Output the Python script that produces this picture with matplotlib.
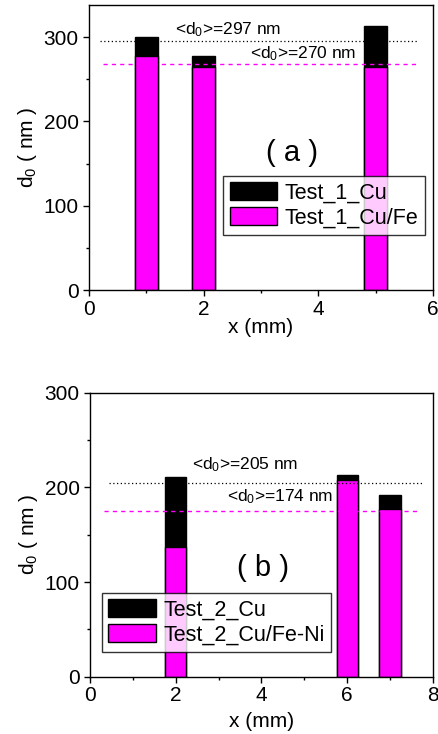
import numpy as np
import matplotlib
matplotlib.use('Agg')
from matplotlib import pyplot as plt
from matplotlib.ticker import MultipleLocator

plt.rcParams['font.family'] = ['Liberation Sans', 'DejaVu Sans']
plt.rcParams['mathtext.fontset'] = 'custom'
plt.rcParams['mathtext.rm'] = 'Liberation Sans'

# panel (a)
x_a = [1, 2, 5]
cu_a = [300, 277, 313]
cufe_a = [278, 265, 264]
mean_cu_a = 295
mean_cufe_a = 268

# panel (b)
x_b = [2, 6, 7]
cu_b = [211, 213, 192]
cufeni_b = [137, 208, 177]
mean_cu_b = 205
mean_cufeni_b = 175

fig = plt.figure(figsize=(4.39, 7.34), dpi=100)
ax1 = fig.add_axes([0.2027, 0.6049, 0.7836, 0.3883])
ax2 = fig.add_axes([0.2050, 0.0781, 0.7813, 0.3869])


def style_axes(ax, xmax, ymax, xpad):
    ax.set_xlim(0, xmax)
    ax.set_ylim(0, ymax)
    ax.xaxis.set_major_locator(MultipleLocator(2))
    ax.xaxis.set_minor_locator(MultipleLocator(1))
    ax.yaxis.set_major_locator(MultipleLocator(100))
    ax.yaxis.set_minor_locator(MultipleLocator(50))
    ax.tick_params(which='major', direction='out', length=4, width=1, labelsize=15,
                   top=False, right=False)
    ax.tick_params(axis='x', which='major', pad=3)
    ax.tick_params(axis='y', which='major', pad=3.5)
    ax.tick_params(which='minor', direction='out', length=2, width=1,
                   top=False, right=False)
    for s in ax.spines.values():
        s.set_linewidth(1)
    ax.set_xlabel('x (mm)', fontsize=15, labelpad=xpad)
    ax.set_ylabel(r'$\mathregular{d_0}$ ( nm )', fontsize=15, labelpad=3)


def make_legend(ax, anchor):
    leg = ax.legend(loc='upper left', bbox_to_anchor=anchor, fontsize=15.5, frameon=True,
                    fancybox=False, handlelength=2.2, handleheight=0.9, handletextpad=0.35,
                    borderpad=0.3, labelspacing=0.15, borderaxespad=0)
    leg.get_frame().set_edgecolor('black')
    leg.get_frame().set_linewidth(1)
    return leg


# top plot
ax1.bar(x_a, cu_a, width=0.4, color='black', edgecolor='black', linewidth=1, label='Test_1_Cu')
ax1.bar(x_a, cufe_a, width=0.4, color='#ff00ff', edgecolor='black', linewidth=1, label='Test_1_Cu/Fe')
ax1.plot([0.2, 5.72], [mean_cu_a, mean_cu_a], color='black', linestyle=(0, (1, 2)), linewidth=0.9)
ax1.plot([0.24, 5.72], [mean_cufe_a, mean_cufe_a], color='#ff00ff', linestyle=(0, (3, 3)), linewidth=1)
ax1.text(1.5, 303, r'<$\mathregular{d_0}$>=297 nm', fontsize=12.5, va='baseline', ha='left')
ax1.text(2.81, 275, r'<$\mathregular{d_0}$>=270 nm', fontsize=12.5, va='baseline', ha='left')
ax1.text(3.54, 162, '( a )', fontsize=21, ha='center', va='center')
style_axes(ax1, 6, 338, -0.5)
make_legend(ax1, (0.39, 0.40))

# bottom plot
ax2.bar(x_b, cu_b, width=0.5, color='black', edgecolor='black', linewidth=1, label='Test_2_Cu')
ax2.bar(x_b, cufeni_b, width=0.5, color='#ff00ff', edgecolor='black', linewidth=1, label='Test_2_Cu/Fe-Ni')
ax2.plot([0.44, 7.8], [mean_cu_b, mean_cu_b], color='black', linestyle=(0, (1, 2)), linewidth=0.9)
ax2.plot([0.33, 7.65], [mean_cufeni_b, mean_cufeni_b], color='#ff00ff', linestyle=(0, (3, 3)), linewidth=1)
ax2.text(2.38, 219, r'<$\mathregular{d_0}$>=205 nm', fontsize=12.5, va='baseline', ha='left')
ax2.text(3.19, 185.5, r'<$\mathregular{d_0}$>=174 nm', fontsize=12.5, va='baseline', ha='left')
ax2.text(4.03, 115, '( b )', fontsize=21, ha='center', va='center')
style_axes(ax2, 8, 300, 4.5)
make_legend(ax2, (0.035, 0.295))

plt.savefig('out.png', dpi=100)
